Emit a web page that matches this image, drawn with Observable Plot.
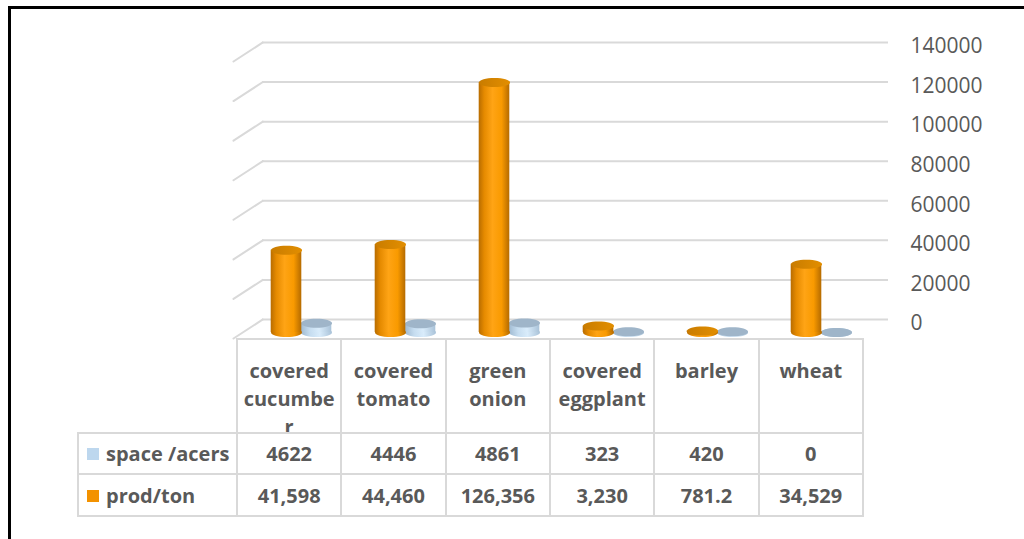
<!DOCTYPE html>
<html>
<head>
<meta charset="utf-8">
<script src="https://cdn.jsdelivr.net/npm/d3@7"></script>
<script src="https://cdn.jsdelivr.net/npm/@observablehq/plot@0.6"></script>
<style>
  html, body { margin: 0; padding: 0; background: #fff; width: 1024px; height: 539px; overflow: hidden; }
  #frame { position: absolute; left: 8px; top: 6px; width: 1030px; height: 540px;
           border-top: 3px solid #000; border-left: 3px solid #000; box-sizing: border-box; }
  #chart { position: absolute; left: 0; top: 0; }
  #tbl { position: absolute; left: 77px; top: 338px; border-collapse: collapse; table-layout: fixed;
         font-family: "Open Sans", sans-serif; font-weight: bold; font-size: 20px; color: #595959; }
  #tbl td { border: 2px solid #d9d9d9; padding: 0; text-align: center; vertical-align: middle; }
  #tbl tr.head td { height: 75px; vertical-align: top; line-height: 28px; padding: 17px 3px 0 3px;
                    overflow-wrap: anywhere; word-break: normal; }
  #tbl tr.head td.blank { border: none; }
  #tbl tr.r1 td { height: 39px; }
  #tbl tr.r2 td { height: 40px; }
  #tbl td.leg { text-align: left; padding-left: 8px; white-space: nowrap; }
  .sw { display: inline-block; width: 12px; height: 12px; margin-right: 7px; vertical-align: 1px; }
  .headwrap { height: 75px; overflow: hidden; }
</style>
</head>
<body>
<div id="frame"></div>
<div id="chart"></div>
<table id="tbl"></table>
<script>
// ---- data ----
const categories = ["covered cucumber", "covered tomato", "green onion", "covered eggplant", "barley", "wheat"];
const spaceAcres = [4622, 4446, 4861, 323, 420, 0];
const prodTon = [41598, 44460, 126356, 3230, 781.2, 34529];
const spaceLabels = ["4622", "4446", "4861", "323", "420", "0"];
const prodLabels = ["41,598", "44,460", "126,356", "3,230", "781.2", "34,529"];
const seriesNames = ["space /acers", "prod/ton"];
const seriesColors = ["#bdd7ee", "#f39200"];
const yTicks = [0, 20000, 40000, 60000, 80000, 100000, 120000, 140000];

const spaceData = categories.map((c, i) => ({cat: c, v: spaceAcres[i]}));
const prodData = categories.map((c, i) => ({cat: c, v: prodTon[i]}));

// ellipse symbol for cylinder caps
function ellipseSymbol(rx, ry) {
  const k = 0.5523;
  return {draw(ctx) {
    ctx.moveTo(rx, 0);
    ctx.bezierCurveTo(rx, ry * k, rx * k, ry, 0, ry);
    ctx.bezierCurveTo(-rx * k, ry, -rx, ry * k, -rx, 0);
    ctx.bezierCurveTo(-rx, -ry * k, -rx * k, -ry, 0, -ry);
    ctx.bezierCurveTo(rx * k, -ry, rx, -ry * k, rx, 0);
    ctx.closePath();
  }};
}
const cap = ellipseSymbol(15.5, 4.5);
const inset = 36.7;

const plot = Plot.plot({
  width: 1024,
  height: 340,
  marginLeft: 236,
  marginRight: 162,
  marginTop: 55,
  marginBottom: 8,
  style: {fontFamily: "Open Sans, sans-serif", fontSize: "21px", color: "#595959", background: "transparent"},
  x: {domain: categories, padding: 0, axis: null},
  y: {domain: [0, 140000], axis: null, label: null},
  marks: [
    // back-wall gridlines
    Plot.ruleY(yTicks, {stroke: "#d9d9d9", strokeWidth: 2, dx: 26, dy: -13}),
    // left side-wall depth lines
    Plot.vector(yTicks, {y: d => d, frameAnchor: "left", dx: -3, dy: 6, length: 35, rotate: 57,
                         anchor: "start", stroke: "#d9d9d9", strokeWidth: 2, shape: {draw(ctx, l) { ctx.moveTo(0, 0); ctx.lineTo(0, -l); }}}),
    Plot.axisY(yTicks, {anchor: "right", tickSize: 0, tickPadding: 48, dy: -9, textAnchor: "start",
                        label: null, tickFormat: d => String(d), fill: "#595959"}),
    // space /acers cylinders (behind)
    Plot.dot(spaceData, {x: "cat", y: () => 0, dx: 27, symbol: cap, fill: "url(#blueSide)", stroke: "none"}),
    Plot.barY(spaceData, {x: "cat", y: "v", dx: 27, insetLeft: inset, insetRight: inset, fill: "url(#blueSide)"}),
    Plot.dot(spaceData, {x: "cat", y: "v", dx: 27, symbol: cap, fill: "#9fb5c9", stroke: "none"}),
    // prod/ton cylinders
    Plot.dot(prodData, {x: "cat", y: () => 0, dx: -3, symbol: cap, fill: "url(#orangeSide)", stroke: "none"}),
    Plot.barY(prodData, {x: "cat", y: "v", dx: -3, insetLeft: inset, insetRight: inset, fill: "url(#orangeSide)"}),
    Plot.dot(prodData, {x: "cat", y: "v", dx: -3, symbol: cap, fill: "url(#orangeTop)", stroke: "none"})
  ]
});

// gradients for cylinder shading
const defs = d3.select(plot).insert("defs", ":first-child");
function grad(id, stops, vertical) {
  const g = defs.append("linearGradient").attr("id", id)
    .attr("x1", "0").attr("y1", "0").attr("x2", vertical ? "0" : "1").attr("y2", vertical ? "1" : "0");
  stops.forEach(([o, c]) => g.append("stop").attr("offset", o).attr("stop-color", c));
}
grad("orangeSide", [["0", "#b86c00"], ["0.18", "#e58a00"], ["0.45", "#ffa415"], ["0.75", "#f99a00"], ["1", "#b56b00"]]);
grad("orangeTop", [["0", "#c97c00"], ["1", "#e28e00"]]);
grad("blueSide", [["0", "#9fb9d0"], ["0.3", "#c6ddf0"], ["0.6", "#d9ecfb"], ["1", "#a9c2d8"]]);
document.getElementById("chart").appendChild(plot);

// data table
const tbl = d3.select("#tbl");
const cg = tbl.append("colgroup");
cg.append("col").style("width", "159px");
categories.forEach(() => cg.append("col").style("width", "104.33px"));
const head = tbl.append("tr").attr("class", "head");
head.append("td").attr("class", "blank");
categories.forEach(c => head.append("td").append("div").attr("class", "headwrap").text(c));
[[spaceLabels, 0, "r1"], [prodLabels, 1, "r2"]].forEach(([labels, s, cls]) => {
  const tr = tbl.append("tr").attr("class", cls);
  const leg = tr.append("td").attr("class", "leg");
  leg.append("span").attr("class", "sw").style("background", seriesColors[s]);
  leg.append("span").text(seriesNames[s]);
  labels.forEach(l => tr.append("td").text(l));
});
</script>
</body>
</html>
